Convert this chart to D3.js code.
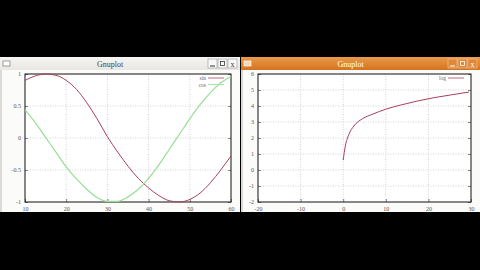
<!DOCTYPE html>
<html>
<head>
<meta charset="utf-8">
<script src="https://cdn.jsdelivr.net/npm/d3@7"></script>
<style>
body { margin:0; background:#000; }
svg { display:block; }
text { font-family:"Liberation Serif","DejaVu Serif",serif; }
</style>
</head>
<body>
<script>
var trigX = [10,12.5,15,17.5,20,22.5,25,27.5,30,32.5,35,37.5,40,42.5,45,47.5,50,52.5,55,57.5,60];
var sinY  = [0.90,0.97,1.00,0.98,0.90,0.76,0.55,0.30,0.02,-0.22,-0.44,-0.63,-0.78,-0.90,-0.98,-1.00,-0.96,-0.86,-0.70,-0.50,-0.28];
var cosY  = [0.44,0.24,0.01,-0.22,-0.45,-0.64,-0.80,-0.93,-0.99,-0.99,-0.92,-0.80,-0.63,-0.42,-0.18,0.06,0.30,0.52,0.71,0.86,0.96];
var trigXTicks = [10,20,30,40,50,60];
var trigYTicks = [-1,-0.5,0,0.5,1];

var logX = [0,0.5,1.3,2.5,4.5,7,10,13.5,17.4,21.3,25.2,29.5];
var logY = [0.62,1.5,2.2,2.75,3.2,3.5,3.8,4.06,4.31,4.52,4.69,4.87];
var logXTicks = [-20,-10,0,10,20,30];
var logYTicks = [-2,-1,0,1,2,3,4,5,6];

var w = 480, h = 270;
var svg = d3.select("body").append("svg").attr("width", w).attr("height", h);
svg.append("rect").attr("width", w).attr("height", h).attr("fill", "#000");

function windowFrame(x0, x1, active) {
	// body
	svg.append("rect").attr("x", x0).attr("y", 57).attr("width", x1-x0).attr("height", 155)
		.attr("fill", "#fbfbfa");
	svg.append("rect").attr("x", x0).attr("y", 70).attr("width", 2).attr("height", 142)
		.attr("fill", "#dcdad6");
	// title bar
	var defs = svg.append("defs");
	var gid = "tb" + x0;
	var grad = defs.append("linearGradient").attr("id", gid).attr("x1",0).attr("x2",0).attr("y1",0).attr("y2",1);
	grad.append("stop").attr("offset","0%").attr("stop-color", active ? "#eb9a4a" : "#f6f5f3");
	grad.append("stop").attr("offset","100%").attr("stop-color", active ? "#d4731f" : "#e9e7e3");
	svg.append("rect").attr("x", x0).attr("y", 57).attr("width", x1-x0).attr("height", 13)
		.attr("fill", "url(#"+gid+")");
	svg.append("text").attr("x", (x0+x1)/2 - 10).attr("y", 66.5).attr("text-anchor","middle")
		.attr("font-size", 8).attr("fill", active ? "#fff" : "#444").text("Gnuplot");
	// icon
	svg.append("rect").attr("x", x0+3).attr("y", 61).attr("width", 7).attr("height", 5)
		.attr("fill", active ? "#f4d8b8" : "#fff").attr("stroke", active ? "#fff" : "#777").attr("stroke-width", 0.7);
	// buttons
	var bx = [x1-32, x1-22, x1-12];
	bx.forEach(function(b, i) {
		svg.append("rect").attr("x", b).attr("y", 59).attr("width", 9).attr("height", 9)
			.attr("fill", active ? "#e08838" : "#f8f8f8").attr("stroke", active ? "#f6c89a" : "#999").attr("stroke-width", 0.6);
		var c = active ? "#fff" : "#333";
		if (i == 0) svg.append("line").attr("x1", b+2).attr("x2", b+7).attr("y1", 66).attr("y2", 66).attr("stroke", c);
		if (i == 1) svg.append("rect").attr("x", b+2.5).attr("y", 61.5).attr("width", 4).attr("height", 4).attr("fill","none").attr("stroke", c).attr("stroke-width",0.8);
		if (i == 2) svg.append("text").attr("x", b+4.5).attr("y", 66.5).attr("text-anchor","middle").attr("font-size",8).attr("font-family","DejaVu Sans").attr("fill", c).text("x");
	});
}

function plot(o) {
	var x = d3.scaleLinear().domain(o.xd).range([o.l, o.r]);
	var y = d3.scaleLinear().domain(o.yd).range([o.b, o.t]);
	var fmt = d => String(d);
	var g = svg.append("g");
	g.append("rect").attr("x", o.l).attr("y", o.t).attr("width", o.r-o.l).attr("height", o.b-o.t).attr("fill", "#fff");
	// grid
	g.selectAll(".gx").data(o.xt.slice(1, -1)).enter().append("line")
		.attr("x1", d => x(d)).attr("x2", d => x(d)).attr("y1", o.t).attr("y2", o.b)
		.attr("stroke", "#dccdd0").attr("stroke-dasharray", "1,1.5");
	g.selectAll(".gy").data(o.yt.slice(1, -1)).enter().append("line")
		.attr("x1", o.l).attr("x2", o.r).attr("y1", d => y(d)).attr("y2", d => y(d))
		.attr("stroke", "#d4d4d4").attr("stroke-dasharray", "1,1.5");
	// axes
	var ax = g.append("g").attr("transform", "translate(0,"+o.b+")")
		.call(d3.axisBottom(x).tickValues(o.xt).tickSize(-3).tickPadding(5).tickFormat(fmt));
	var ay = g.append("g").attr("transform", "translate("+o.l+",0)")
		.call(d3.axisLeft(y).tickValues(o.yt).tickSize(-3).tickPadding(4).tickFormat(fmt));
	var ax2 = g.append("g").attr("transform", "translate("+o.r+",0)")
		.call(d3.axisRight(y).tickValues(o.yt).tickSize(-3).tickFormat(""));
	[ax, ay, ax2].forEach(function(a) {
		a.select(".domain").remove();
		a.selectAll("line").attr("stroke", "#333").attr("stroke-width", 0.6);
		a.selectAll("text").attr("font-size", 6).attr("fill", "#555")
			.attr("font-family", "'Liberation Serif','DejaVu Serif',serif");
	});
	g.append("rect").attr("x", o.l).attr("y", o.t).attr("width", o.r-o.l).attr("height", o.b-o.t)
		.attr("fill", "none").attr("stroke", "#111").attr("stroke-width", 1);
	// curves
	var line = d3.line().x(d => x(d[0])).y(d => y(d[1])).curve(d3.curveMonotoneX);
	o.series.forEach(function(s, i) {
		var pts = s.xs.map((v, j) => [v, s.ys[j]]);
		g.append("path").datum(pts).attr("d", line).attr("fill", "none")
			.attr("stroke", s.color).attr("stroke-width", s.width);
		// legend
		var ly = o.t + 4 + i*6.5;
		g.append("text").attr("x", o.r - 25).attr("y", ly + 2).attr("text-anchor", "end")
			.attr("font-size", 5.5).attr("fill", "#666").text(s.name);
		g.append("line").attr("x1", o.r - 23).attr("x2", o.r - 7).attr("y1", ly).attr("y2", ly)
			.attr("stroke", s.color).attr("stroke-width", 0.8);
	});
}

windowFrame(0, 240, false);
windowFrame(241, 480, true);

plot({l:25, r:231, t:74, b:202, xd:[10,60], yd:[-1,1], xt:trigXTicks, yt:trigYTicks,
	series:[{name:"sin", xs:trigX, ys:sinY, color:"#a8405c", width:1},
		{name:"cos", xs:trigX, ys:cosY, color:"#96e096", width:1.2}]});

plot({l:258, r:471, t:74, b:202, xd:[-20,30], yd:[-2,6], xt:logXTicks, yt:logYTicks,
	series:[{name:"log", xs:logX, ys:logY, color:"#a8405c", width:1}]});
</script>
</body>
</html>
